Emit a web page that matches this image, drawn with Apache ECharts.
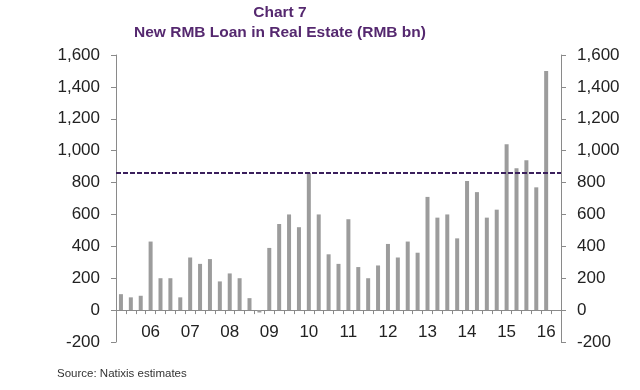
<!DOCTYPE html>
<html><head><meta charset="utf-8">
<script src="https://cdn.jsdelivr.net/npm/echarts@6/dist/echarts.min.js"></script>
<style>html,body{margin:0;padding:0;background:#fff}#c{width:640px;height:390px}</style>
</head><body><div id="c"></div>
<script>
var categories = ['05Q2','05Q3','05Q4',
 '06Q1','06Q2','06Q3','06Q4','07Q1','07Q2','07Q3','07Q4','08Q1','08Q2','08Q3','08Q4',
 '09Q1','09Q2','09Q3','09Q4','10Q1','10Q2','10Q3','10Q4','11Q1','11Q2','11Q3','11Q4',
 '12Q1','12Q2','12Q3','12Q4','13Q1','13Q2','13Q3','13Q4','14Q1','14Q2','14Q3','14Q4',
 '15Q1','15Q2','15Q3','15Q4','16Q1','16Q2'];
var loans = [100,80,90,
 430,200,200,80,330,290,320,180,230,200,75,-15,
 390,540,600,520,860,600,350,290,570,270,200,280,
 415,330,430,360,710,580,600,450,810,740,580,630,
 1040,890,940,770,1500,null];
var refLevel = 860;
var yTicks = [-200,0,200,400,600,800,1000,1200,1400,1600];

var fmt = function(v){ return v.toLocaleString('en-US'); };
var font = 'Liberation Sans, Arial, sans-serif';
var axisCommon = function(pos){
  return {
    type:'value', position:pos, min:yTicks[0], max:yTicks[yTicks.length-1], interval:200,
    axisLine:{show:true, lineStyle:{color:'#8a8a8a', width:1}},
    axisTick:{show:true, length:5, lineStyle:{color:'#8a8a8a'}},
    splitLine:{show:false},
    axisLabel:{formatter:fmt, color:'#222', fontSize:17, fontFamily:font, margin:16}
  };
};
var chart = echarts.init(document.getElementById('c'));
chart.setOption({
  animation:false,
  backgroundColor:'#fff',
  title:[
    {text:'Chart 7', left:275, top:0, textAlign:'center',
     textStyle:{color:'#55286f', fontSize:15.5, fontWeight:'bold', fontFamily:font}},
    {text:'New RMB Loan in Real Estate (RMB bn)', left:275, top:20, textAlign:'center',
     textStyle:{color:'#55286f', fontSize:15.5, fontWeight:'bold', fontFamily:font}},
    {text:'Source: Natixis estimates', left:52, top:363,
     textStyle:{color:'#333', fontSize:11.5, fontWeight:'normal', fontFamily:font}}
  ],
  grid:{left:116, right:79, top:55, bottom:48},
  xAxis:{
    type:'category', data:categories, boundaryGap:true,
    axisLine:{show:true, onZero:true, lineStyle:{color:'#8a8a8a'}},
    axisTick:{show:true, interval:0, length:4, lineStyle:{color:'#8a8a8a'}},
    axisLabel:{interval:function(i,v){return v.slice(2)==='Q1';},
      formatter:function(v){return v.slice(0,2);},
      color:'#222', fontSize:17, fontFamily:font, margin:-18}
  },
  yAxis:[axisCommon('left'), axisCommon('right')],
  series:[{
    type:'bar', data:loans, barWidth:4,
    itemStyle:{color:'#9c9c9c'},
    markLine:{silent:true, symbol:['none','none'], label:{show:false},
      lineStyle:{color:'#3a1f5c', type:[5,2], width:2},
      data:[{yAxis:refLevel}]}
  }]
});
</script></body></html>
